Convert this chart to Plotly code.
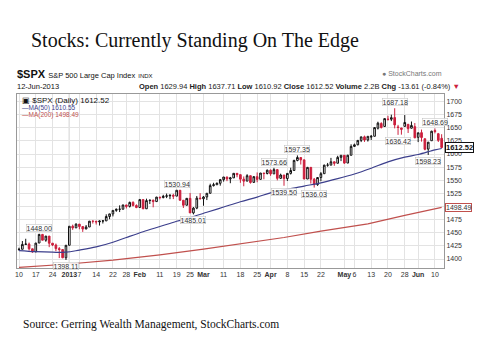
import plotly.graph_objects as go

# ---------------- data ----------------
dates = [
 "2012-12-10","2012-12-11","2012-12-12","2012-12-13","2012-12-14","2012-12-17","2012-12-18","2012-12-19","2012-12-20","2012-12-21",
 "2012-12-24","2012-12-26","2012-12-27","2012-12-28","2012-12-31",
 "2013-01-02","2013-01-03","2013-01-04","2013-01-07","2013-01-08","2013-01-09","2013-01-10","2013-01-11","2013-01-14","2013-01-15",
 "2013-01-16","2013-01-17","2013-01-18","2013-01-22","2013-01-23","2013-01-24","2013-01-25","2013-01-28","2013-01-29","2013-01-30","2013-01-31",
 "2013-02-01","2013-02-04","2013-02-05","2013-02-06","2013-02-07","2013-02-08","2013-02-11","2013-02-12","2013-02-13","2013-02-14",
 "2013-02-15","2013-02-19","2013-02-20","2013-02-21","2013-02-22","2013-02-25","2013-02-26","2013-02-27","2013-02-28",
 "2013-03-01","2013-03-04","2013-03-05","2013-03-06","2013-03-07","2013-03-08","2013-03-11","2013-03-12","2013-03-13","2013-03-14",
 "2013-03-15","2013-03-18","2013-03-19","2013-03-20","2013-03-21","2013-03-22","2013-03-25","2013-03-26","2013-03-27","2013-03-28",
 "2013-04-01","2013-04-02","2013-04-03","2013-04-04","2013-04-05","2013-04-08","2013-04-09","2013-04-10","2013-04-11","2013-04-12",
 "2013-04-15","2013-04-16","2013-04-17","2013-04-18","2013-04-19","2013-04-22","2013-04-23","2013-04-24","2013-04-25","2013-04-26",
 "2013-04-29","2013-04-30",
 "2013-05-01","2013-05-02","2013-05-03","2013-05-06","2013-05-07","2013-05-08","2013-05-09","2013-05-10","2013-05-13","2013-05-14",
 "2013-05-15","2013-05-16","2013-05-17","2013-05-20","2013-05-21","2013-05-22","2013-05-23","2013-05-24","2013-05-28","2013-05-29",
 "2013-05-30","2013-05-31",
 "2013-06-03","2013-06-04","2013-06-05","2013-06-06","2013-06-07","2013-06-10","2013-06-11","2013-06-12",
]

opens = [
 1418.07,1418.55,1427.84,1428.48,1419.45,1413.54,1430.47,1446.79,1435.81,1443.67,
 1430.15,1426.66,1419.83,1418.10,1402.43,
 1426.19,1462.42,1459.37,1466.47,1461.89,1457.15,1461.02,1472.12,1472.05,1470.67,
 1472.33,1472.63,1480.95,1485.98,1492.56,1494.81,1494.82,1502.96,1500.18,1507.84,1501.96,
 1498.11,1513.17,1495.71,1511.29,1512.12,1509.39,1517.93,1517.01,1519.43,1520.33,
 1521.38,1519.79,1530.94,1511.95,1502.42,1515.60,1487.85,1496.94,1515.99,
 1514.68,1518.20,1525.20,1539.79,1541.46,1544.26,1551.15,1556.22,1552.48,1554.52,
 1563.21,1560.70,1552.10,1548.34,1558.71,1545.90,1556.89,1551.69,1563.75,1562.86,
 1569.18,1562.17,1570.25,1553.69,1559.98,1553.26,1563.11,1568.61,1587.73,1593.30,
 1588.84,1552.36,1574.57,1552.03,1541.61,1555.25,1562.50,1578.78,1578.78,1585.16,
 1582.34,1593.58,
 1597.55,1582.77,1597.60,1614.40,1617.55,1625.95,1632.69,1626.69,1632.10,1633.75,
 1649.13,1658.07,1652.45,1665.71,1666.20,1669.39,1651.62,1646.67,1652.63,1656.57,
 1649.14,1652.13,
 1631.71,1640.73,1629.05,1609.29,1625.27,1644.67,1638.64,1629.94,
]

highs = [
 1421.64,1434.27,1438.59,1431.36,1419.45,1430.67,1448.00,1447.75,1443.70,1443.67,
 1430.15,1429.42,1422.80,1418.10,1426.74,
 1462.43,1465.47,1467.94,1466.47,1461.89,1464.73,1472.30,1472.75,1472.05,1473.31,
 1473.96,1485.16,1485.98,1492.56,1496.13,1502.27,1503.26,1503.23,1509.35,1509.94,1504.19,
 1514.41,1513.17,1514.96,1512.53,1512.90,1518.31,1518.31,1522.29,1524.69,1523.14,
 1524.24,1530.94,1530.94,1511.95,1515.64,1525.84,1498.99,1520.08,1525.34,
 1519.99,1525.27,1543.47,1545.25,1545.78,1552.48,1556.27,1556.77,1556.39,1563.32,
 1563.62,1560.70,1557.25,1561.56,1558.71,1557.74,1564.91,1563.95,1564.07,1570.28,
 1570.57,1573.66,1571.47,1562.60,1559.98,1563.07,1573.89,1589.07,1597.35,1593.30,
 1588.84,1575.35,1574.57,1554.38,1555.89,1565.55,1579.58,1583.00,1592.64,1585.78,
 1596.65,1597.57,
 1597.55,1598.60,1618.46,1619.77,1626.03,1632.78,1635.01,1633.70,1636.00,1651.10,
 1661.49,1660.51,1667.47,1672.84,1674.93,1687.18,1655.50,1649.78,1674.21,1656.57,
 1661.91,1658.99,
 1640.42,1646.53,1629.31,1622.56,1644.40,1648.69,1640.13,1637.71,
]

lows = [
 1415.64,1418.55,1426.76,1416.00,1411.88,1413.54,1430.47,1435.80,1432.82,1422.58,
 1424.66,1414.91,1401.80,1401.58,1398.11,
 1426.19,1455.53,1458.99,1456.62,1451.64,1457.15,1461.02,1467.58,1465.69,1463.76,
 1467.60,1472.63,1475.81,1481.16,1489.90,1489.46,1494.82,1496.33,1498.09,1500.11,1496.76,
 1498.11,1495.02,1495.71,1504.71,1498.49,1509.39,1513.61,1515.61,1515.93,1514.02,
 1514.14,1519.79,1511.41,1497.29,1502.42,1487.85,1485.01,1494.88,1514.46,
 1501.48,1512.29,1525.20,1538.11,1541.46,1539.71,1547.36,1548.24,1544.37,1554.52,
 1555.74,1545.13,1538.57,1548.34,1543.55,1545.90,1546.22,1551.69,1551.90,1561.08,
 1558.47,1562.17,1549.80,1552.52,1539.50,1548.63,1560.92,1568.61,1586.17,1579.97,
 1552.28,1552.36,1543.69,1536.03,1539.40,1548.19,1562.50,1575.80,1578.78,1577.56,
 1582.34,1586.50,
 1581.28,1582.77,1597.60,1614.21,1616.64,1622.70,1623.09,1623.71,1626.74,1633.75,
 1646.68,1648.60,1652.45,1663.52,1662.67,1648.86,1636.42,1636.88,1652.63,1640.05,
 1648.61,1630.74,
 1622.72,1623.62,1607.09,1598.23,1625.27,1639.26,1622.92,1610.92,
]

closes = [
 1418.55,1427.84,1428.48,1419.45,1413.58,1430.36,1446.79,1435.81,1443.69,1430.15,
 1426.66,1419.83,1418.10,1402.43,1426.19,
 1462.42,1459.37,1466.47,1461.89,1457.15,1461.02,1472.12,1472.05,1470.68,1472.34,
 1472.63,1480.94,1485.98,1492.56,1494.81,1494.82,1502.96,1500.18,1507.84,1501.96,1498.11,
 1513.17,1495.71,1511.29,1512.12,1509.39,1517.93,1517.01,1519.43,1520.33,1521.38,
 1519.79,1530.94,1511.95,1502.42,1515.60,1487.85,1496.94,1515.99,1514.68,
 1518.20,1525.20,1539.79,1541.46,1544.26,1551.18,1556.22,1552.48,1554.52,1563.23,
 1560.70,1552.10,1548.34,1558.71,1545.80,1556.89,1551.69,1563.77,1562.85,1569.19,
 1562.17,1570.25,1553.69,1559.98,1553.28,1563.07,1568.61,1587.73,1593.37,1588.85,
 1552.36,1574.57,1552.01,1541.61,1555.25,1562.50,1578.78,1578.79,1585.16,1582.24,
 1593.61,1597.57,
 1582.70,1597.59,1614.42,1617.50,1625.96,1632.69,1626.67,1633.70,1633.77,1650.34,
 1658.78,1650.47,1667.47,1666.29,1669.16,1655.35,1650.51,1649.60,1660.06,1648.36,
 1654.41,1630.74,
 1640.42,1631.38,1608.90,1622.56,1643.38,1642.81,1626.13,1612.52,
]
prev_close_before_start = 1418.07

ma50_dates = ["2012-12-10","2012-12-17","2012-12-24","2012-12-31","2013-01-07","2013-01-14","2013-01-22","2013-01-28",
              "2013-02-04","2013-02-11","2013-02-19","2013-02-26","2013-03-04","2013-03-11","2013-03-18","2013-03-25",
              "2013-04-01","2013-04-08","2013-04-15","2013-04-22","2013-04-29","2013-05-06","2013-05-13","2013-05-20",
              "2013-05-28","2013-06-03","2013-06-10","2013-06-12"]
ma50_vals = [1416,1414,1413,1413,1417,1423,1432,1441,1452,1462,1472,1481,1489,1499,1509,1518,
             1526,1533,1539,1545,1553,1562,1573,1585,1594,1599,1608,1610.55]
ma200_dates = ["2012-12-10","2012-12-31","2013-01-22","2013-02-11","2013-03-01","2013-03-18","2013-04-05",
               "2013-04-22","2013-05-10","2013-05-28","2013-06-12"]
ma200_vals = [1384,1390,1398,1408,1419,1429,1441,1453,1467,1483,1498.49]

tick_dates = ["2012-12-10","2012-12-17","2012-12-24","2013-01-02","2013-01-07","2013-01-14","2013-01-22","2013-01-28",
              "2013-02-01","2013-02-11","2013-02-19","2013-02-25","2013-03-01","2013-03-11","2013-03-18","2013-03-25",
              "2013-04-01","2013-04-08","2013-04-15","2013-04-22","2013-05-01","2013-05-06","2013-05-13","2013-05-20",
              "2013-05-28","2013-06-03","2013-06-10"]
tick_labels = ["10","17","24","<b>2013</b>","7","14","22","28","<b>Feb</b>","11","19","25","<b>Mar</b>","11","18","25",
               "<b>Apr</b>","8","15","22","<b>May</b>","6","13","20","28","<b>Jun</b>","10"]
y_ticks = [1400,1425,1450,1475,1500,1525,1550,1575,1600,1625,1650,1675,1700]
y_tick_labels = ["1400","1425","1450","1475","","1525","1550","1575","1600","1625","1650","1675","1700"]

# marked highs / lows
mark_dates = ["2012-12-18","2012-12-31","2013-02-19","2013-02-26","2013-04-02","2013-04-05","2013-04-11","2013-04-18",
              "2013-05-22","2013-05-23","2013-06-06","2013-06-10"]
mark_vals = [1448.00,1398.11,1530.94,1485.01,1573.66,1539.50,1597.35,1536.03,1687.18,1636.42,1598.23,1648.69]
mark_side = ["high","low","high","low","high","low","high","low","high","low","low","high"]

RED = "#cc1f3d"
BLUE = "#3c3f8c"
MARED = "#c0504d"

# split candles: black when close >= previous close, red otherwise
blk = {k: [] for k in "xohlc"}
red = {k: [] for k in "xohlc"}
prev = prev_close_before_start
for d, o, h, l, c in zip(dates, opens, highs, lows, closes):
    tgt = red if c < prev else blk
    tgt["x"].append(d); tgt["o"].append(o); tgt["h"].append(h); tgt["l"].append(l); tgt["c"].append(c)
    prev = c

fig = go.Figure()
fig.add_trace(go.Scatter(x=ma200_dates, y=ma200_vals, mode="lines", line=dict(color=MARED, width=1.2), hoverinfo="skip"))
fig.add_trace(go.Scatter(x=ma50_dates, y=ma50_vals, mode="lines", line=dict(color=BLUE, width=1.2, shape="spline"), hoverinfo="skip"))
fig.add_trace(go.Candlestick(x=blk["x"], open=blk["o"], high=blk["h"], low=blk["l"], close=blk["c"],
    increasing=dict(line=dict(color="#111", width=1), fillcolor="white"),
    decreasing=dict(line=dict(color="#111", width=1), fillcolor="#111"), whiskerwidth=0))
fig.add_trace(go.Candlestick(x=red["x"], open=red["o"], high=red["h"], low=red["l"], close=red["c"],
    increasing=dict(line=dict(color=RED, width=1), fillcolor="white"),
    decreasing=dict(line=dict(color=RED, width=1), fillcolor=RED), whiskerwidth=0))

ann = []
for d, v, s in zip(mark_dates, mark_vals, mark_side):
    ann.append(dict(x=d, y=v, xref="x", yref="y", text=f"{v:.2f}", showarrow=False,
                    yanchor="bottom" if s == "high" else "top", yshift=2 if s == "high" else -2,
                    font=dict(family="Liberation Sans", size=7, color="#333"),
                    bgcolor="rgba(255,255,255,0.85)", bordercolor="#bbb", borderwidth=0.5, borderpad=0))

L, R, T, B = 17, 444, 94, 268
def px(x): return (x - L) / (R - L)
def py(y): return (B - y) / (B - T)

sans = "Liberation Sans, Arial, sans-serif"
serif = "Liberation Serif, Times New Roman, serif"
page = [
    dict(x=px(29), y=py(40), text="Stocks: Currently Standing On The Edge", font=dict(family=serif, size=20, color="#111")),
    dict(x=px(21), y=py(324), text="Source: Gerring Wealth Management, StockCharts.com", font=dict(family=serif, size=11.5, color="#111")),
    dict(x=px(15), y=py(74), text="<b>$SPX</b> <span style='font-size:7.5px'>S&amp;P 500 Large Cap Index</span> <span style='font-size:6px'>INDX</span>",
         font=dict(family=sans, size=11, color="#111")),
    dict(x=px(15), y=py(86), text="12-Jun-2013", font=dict(family=sans, size=7.5, color="#111")),
    dict(x=px(20), y=py(100), text="▣ $SPX (Daily) 1612.52", font=dict(family=sans, size=8, color="#111")),
    dict(x=px(20), y=py(108), text="—MA(50) 1610.55", font=dict(family=sans, size=6.5, color=BLUE)),
    dict(x=px(20), y=py(115), text="—MA(200) 1498.49", font=dict(family=sans, size=6.5, color=MARED)),
]
for a in page:
    a.update(xref="paper", yref="paper", xanchor="left", yanchor="middle", showarrow=False)
ann += page
ann += [
    dict(x=1, y=py(74), xref="paper", yref="paper", xanchor="right", yanchor="middle", showarrow=False, text="● StockCharts.com",
         font=dict(family=sans, size=7, color="#777")),
    dict(x=px(462), y=py(86), xref="paper", yref="paper", xanchor="right", yanchor="middle", showarrow=False,
         text="<b>Open</b> 1629.94 <b>High</b> 1637.71 <b>Low</b> 1610.92 <b>Close</b> 1612.52 <b>Volume</b> 2.2B <b>Chg</b> -13.61 (-0.84%) <span style='color:#cc1f3d'>▼</span>",
         font=dict(family=sans, size=7.5, color="#222")),
    dict(x=1, y=1612.52, xref="paper", yref="y", xanchor="left", yanchor="middle", showarrow=False, xshift=1, text="<b>1612.52</b>",
         font=dict(family=sans, size=7.5, color="#111"), bgcolor="white", bordercolor="#111", borderwidth=1, borderpad=0),
    dict(x=1, y=1498.49, xref="paper", yref="y", xanchor="left", yanchor="middle", showarrow=False, xshift=1, text="1498.49",
         font=dict(family=sans, size=7, color="#333"), bgcolor="white", bordercolor=MARED, borderwidth=1, borderpad=0),
]

fig.update_layout(
    width=480, height=360, margin=dict(l=L, r=480 - R, t=T, b=360 - B, autoexpand=False),
    paper_bgcolor="white", plot_bgcolor="white", showlegend=False,
    annotations=ann,
    shapes=[dict(type="line", xref="x", yref="paper", x0="2013-01-02", x1="2013-01-02", y0=0, y1=1,
                 line=dict(color="#999", width=1), layer="below")],
    xaxis=dict(type="category", categoryorder="array", categoryarray=dates, range=[-0.6, len(dates) - 0.3],
               tickvals=tick_dates, ticktext=tick_labels, tickangle=0, automargin=False,
               tickfont=dict(family=sans, size=7, color="#333"), showgrid=True, gridcolor="#e3e3e3", gridwidth=1,
               showline=True, linecolor="#999", mirror=True, ticks="", rangeslider=dict(visible=False)),
    yaxis=dict(side="right", range=[1382.9, 1714.3], tickvals=y_ticks, ticktext=y_tick_labels, automargin=False,
               tickfont=dict(family=sans, size=7, color="#333"),
               showgrid=True, gridcolor="#e3e3e3", gridwidth=1, showline=True, linecolor="#999", mirror=True,
               ticks="", zeroline=False),
)

fig.write_html("out.html", config={"displayModeBar": False},
               post_script="document.body.style.margin='0';document.body.style.overflow='hidden';")
